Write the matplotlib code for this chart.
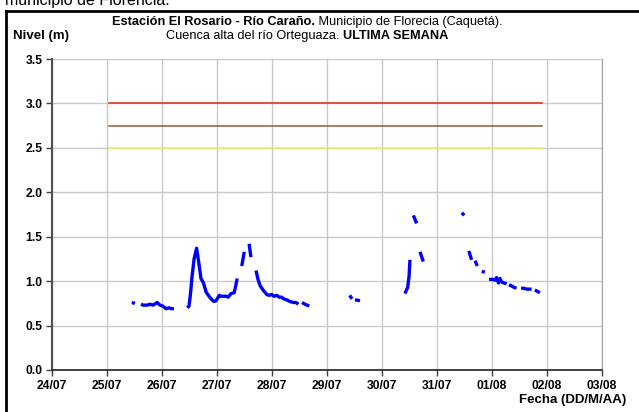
import datetime as dt

import matplotlib
matplotlib.use("Agg")
import matplotlib.pyplot as plt
import matplotlib.dates as mdates
import numpy as np

plt.rcParams['font.family'] = ['Liberation Sans', 'DejaVu Sans']

inicio = dt.datetime(2011, 7, 24)

# horas desde el 24/07 00:00 y nivel (m); nan = sin dato
horas = [34.8, 36.2, np.nan,
         38.8, 39.8, 41.5, 42.8, 44.1, 45.9, 47.1, 48.4, 49.7, 51.0, 52.0, 53.2, np.nan,
         59.0, 59.8, 60.4, 61.1, 62.0, 63.1, 64.1, 65.0, 66.1, 67.2, 68.5, 69.8, 70.7,
         71.6, 73.0, 73.7, 74.7, 75.9, 76.9, 78.1, 79.5, 80.2, 80.8, np.nan,
         82.8, 83.9, np.nan,
         86.0, 86.8, np.nan,
         89.0, 89.9, 90.8, 92.1, 93.7, 94.7, 95.9, 96.9, 98.1, 99.1, 100.2, 101.2,
         102.4, 103.9, 105.3, 106.5, 107.5, np.nan,
         109.1, 110.4, 112.3, np.nan,
         129.9, 130.9, np.nan,
         132.2, 134.4, np.nan,
         154.0, 155.2, 155.8, 156.2, np.nan,
         157.7, 159.1, np.nan,
         160.6, 162.0, np.nan,
         178.8, 179.9, np.nan,
         181.9, 183.1, np.nan,
         184.6, 185.6, np.nan,
         187.5, 188.9, np.nan,
         190.7, 192.3, 193.3, 194.0, 194.8, 195.5, 196.2, 197.2, 198.4, np.nan,
         199.4, 200.6, 201.6, 202.7, np.nan,
         204.7, 205.7, 207.3, 209.3, np.nan,
         210.7, 212.9]
nivel = [0.76, 0.75, np.nan,
         0.74, 0.73, 0.73, 0.74, 0.73, 0.76, 0.73, 0.72, 0.69, 0.70, 0.69, 0.69, np.nan,
         0.70, 0.72, 0.85, 1.05, 1.25, 1.37, 1.20, 1.03, 0.98, 0.88, 0.83, 0.79, 0.77,
         0.78, 0.84, 0.83, 0.83, 0.83, 0.82, 0.86, 0.87, 0.95, 1.03, np.nan,
         1.17, 1.33, np.nan,
         1.42, 1.27, np.nan,
         1.12, 1.02, 0.95, 0.90, 0.85, 0.84, 0.85, 0.83, 0.84, 0.82, 0.82, 0.80,
         0.79, 0.77, 0.76, 0.76, 0.74, np.nan,
         0.76, 0.74, 0.72, np.nan,
         0.84, 0.80, np.nan,
         0.79, 0.78, np.nan,
         0.86, 0.93, 1.05, 1.24, np.nan,
         1.74, 1.65, np.nan,
         1.33, 1.22, np.nan,
         1.77, 1.74, np.nan,
         1.34, 1.24, np.nan,
         1.23, 1.17, np.nan,
         1.11, 1.10, np.nan,
         1.02, 1.02, 1.01, 1.04, 0.98, 1.03, 0.99, 0.98, 0.97, np.nan,
         0.96, 0.945, 0.93, 0.92, np.nan,
         0.92, 0.92, 0.91, 0.91, np.nan,
         0.90, 0.87]

# niveles de alerta
umbrales = [3.0, 2.75, 2.5]
colores_umbral = ['#e3352c', '#94694a', '#f0f05a']
umbral_ini = 24.8   # horas desde el 24/07
umbral_fin = 213.8

h = np.array(horas)
fechas = mdates.date2num(inicio) + h / 24.0   # nan se conserva

fig = plt.figure(figsize=(6.39, 4.12), dpi=100)
ax = fig.add_axes([52 / 639, 1 - 370 / 412, 550 / 639, 311 / 412])

for u, c in zip(umbrales, colores_umbral):
    ax.plot([inicio + dt.timedelta(hours=umbral_ini), inicio + dt.timedelta(hours=umbral_fin)],
            [u, u], color=c, lw=1.2)

ax.plot(fechas, nivel, color='#0000ff', lw=2.4, solid_capstyle='butt')

ax.set_xlim(inicio, inicio + dt.timedelta(days=10))
ax.set_ylim(0, 3.5)
ax.set_yticks(np.arange(0, 3.51, 0.5))
ax.yaxis.set_major_formatter(matplotlib.ticker.FormatStrFormatter('%.1f'))
ax.xaxis.set_major_locator(mdates.DayLocator())
ax.xaxis.set_major_formatter(mdates.DateFormatter('%d/%m'))
ax.grid(True, color='#c8c8c8', lw=1)
ax.set_axisbelow(True)
ax.tick_params(axis='both', direction='out', length=4, width=1, color='#404040',
               labelsize=8.7, pad=3)
for lbl in ax.get_xticklabels() + ax.get_yticklabels():
    lbl.set_fontweight('bold')
ax.spines['left'].set_color('#505050')
ax.spines['left'].set_linewidth(1.5)
ax.spines['bottom'].set_color('#202020')
ax.spines['bottom'].set_linewidth(1.2)
ax.spines['right'].set_color('#a0a0a0')
ax.spines['top'].set_visible(False)

# marco del cuadro
fig.add_artist(plt.Line2D([6 / 639, 6 / 639], [0, 1 - 11 / 412], color='black', lw=2))
fig.add_artist(plt.Line2D([6 / 639, 1], [1 - 11 / 412, 1 - 11 / 412], color='black', lw=2))

fig.text(5 / 639, 1 - 5 / 412, 'municipio de Florencia.', fontsize=11.5, va='baseline')

# titulo en dos lineas, con partes en negrita
r = fig.canvas.get_renderer()
lineas = [(22, 'Estación El Rosario - Río Caraño.', ' Municipio de Florecia (Caquetá).', 'bold', 'normal'),
          (36, 'Cuenca alta del río Orteguaza. ', 'ULTIMA SEMANA', 'normal', 'bold')]
for y, a, b, wa, wb in lineas:
    ta = fig.text(0, 1 - y / 412, a, fontsize=9.2, fontweight=wa, va='center')
    tb = fig.text(0, 1 - y / 412, b, fontsize=9.2, fontweight=wb, va='center')
    wa_px = ta.get_window_extent(r).width
    wb_px = tb.get_window_extent(r).width
    x0 = 307 - (wa_px + wb_px) / 2
    ta.set_x(x0 / 639)
    tb.set_x((x0 + wa_px) / 639)

fig.text(13 / 639, 1 - 36 / 412, 'Nivel (m)', fontsize=9.5, fontweight='bold', va='center')
fig.text(626 / 639, 1 - 400 / 412, 'Fecha (DD/M/AA)', fontsize=9.5, fontweight='bold',
         ha='right', va='center')

fig.savefig('out.png', dpi=100)
